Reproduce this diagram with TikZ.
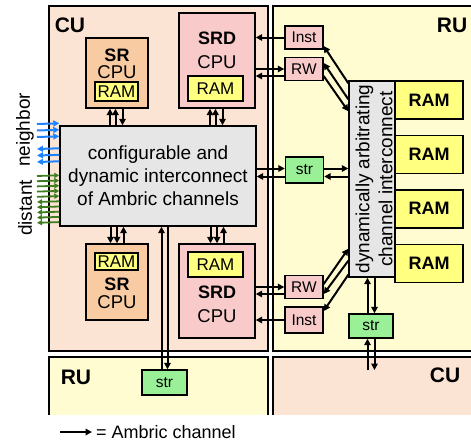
\documentclass[tikz,border=0pt]{standalone}
\usepackage{fontspec}
\setmainfont{Liberation Sans}
\usepackage{xcolor}
\usetikzlibrary{arrows.meta,positioning,calc}
\definecolor{ink}{HTML}{000000}
\definecolor{cufill}{HTML}{FCE4D4}
\definecolor{rufill}{HTML}{FFFCD2}
\definecolor{srfill}{HTML}{F8CBA2}
\definecolor{srdfill}{HTML}{F8CACA}
\definecolor{ramfill}{HTML}{FFFF80}
\definecolor{icfill}{HTML}{E6E6E6}
\definecolor{strfill}{HTML}{99F097}
\definecolor{nbblue}{HTML}{1F82FF}
\definecolor{dsgreen}{HTML}{3D7D20}

\begin{document}
\begin{tikzpicture}[x=1pt, y=-1pt,
  unit/.style={draw=ink, line width=1.6pt, inner sep=0pt, minimum width=217pt},
  unitname/.style={inner sep=0pt, text=ink, font=\bfseries\fontsize{21}{24}\selectfont},
  part/.style={draw=ink, line width=1.4pt, inner sep=0pt},
  partname/.style={inner sep=0pt, text=ink, font=\bfseries\fontsize{18}{20}\selectfont},
  partcpu/.style={inner sep=0pt, text=ink, font=\fontsize{18.5}{20}\selectfont},
  ram/.style={part, fill=ramfill, font=\fontsize{17}{19}\selectfont},
  bigram/.style={part, fill=ramfill, minimum width=68pt, minimum height=38pt, font=\bfseries\fontsize{18}{20}\selectfont},
  port/.style={part, minimum width=38pt, font=\fontsize{15.5}{18}\selectfont},
  chan/.style={-{Triangle[length=6.5pt,width=6.5pt]}, line width=2pt, ink},
  nbarr/.style={-{Triangle[length=6pt,width=6pt]}, line width=2pt, nbblue},
  dsarr/.style={-{Triangle[length=5pt,width=5pt]}, line width=1.8pt, dsgreen},
  sidelabel/.style={inner sep=0pt, rotate=90, text=ink, font=\fontsize{19}{22}\selectfont}
]
  \useasboundingbox (0,0) rectangle (471,442);
  \begin{scope}
    \clip (0,0) rectangle (471,414);
    \node[unit, fill=cufill, minimum width=219pt, minimum height=345pt] (cuA) at (158.5,178.5) {};
    \node[unit, fill=rufill, minimum height=345pt] (ruA) at (381.5,178.5) {};
    \node[unit, fill=rufill, minimum width=219pt, minimum height=80pt] (ruB) at (158.5,397) {};
    \node[unit, fill=cufill, minimum height=80pt] (cuB) at (381.5,397) {};
  \end{scope}
  \node[unitname] (cuAt) at (70,25) {CU};
  \node[unitname] (ruAt) at (452,25) {RU};
  \node[unitname] (ruBt) at (76,377) {RU};
  \node[unitname] (cuBt) at (445,375) {CU};

  \node[part, fill=srfill, minimum width=62pt, minimum height=70pt] (sr1) at (117,73) {};
  \node[partname] (sr1n) at (117,55) {SR};
  \node[partcpu] (sr1c) at (117,72.5) {CPU};
  \node[ram, minimum width=43pt, minimum height=19pt] (sr1m) at (116.5,91.5) {RAM};
  \node[part, fill=srdfill, minimum width=76pt, minimum height=95pt] (srd1) at (217,60.5) {};
  \node[partname] (srd1n) at (217,38) {SRD};
  \node[partcpu] (srd1c) at (217,62) {CPU};
  \node[ram, minimum width=55pt, minimum height=25pt] (srd1m) at (215.5,88.5) {RAM};

  \node[part, fill=icfill, minimum width=196pt, minimum height=100pt, align=center,
        font=\fontsize{19}{23}\selectfont] (ic) at (158,176)
        {configurable and\\dynamic interconnect\\of Ambric channels};

  \node[part, fill=srfill, minimum width=62pt, minimum height=76pt] (sr2) at (117,282) {};
  \node[ram, minimum width=43pt, minimum height=17pt] (sr2m) at (116.5,261.5) {RAM};
  \node[partname] (sr2n) at (117,284) {SR};
  \node[partcpu] (sr2c) at (117,302) {CPU};
  \node[part, fill=srdfill, minimum width=76pt, minimum height=94pt] (srd2) at (217,291) {};
  \node[ram, minimum width=55pt, minimum height=25pt] (srd2m) at (215.5,264.5) {RAM};
  \node[partname] (srd2n) at (217,292) {SRD};
  \node[partcpu] (srd2c) at (217,316) {CPU};

  \node[port, fill=strfill, minimum width=45pt, minimum height=25pt] (st1) at (164.5,382.5) {str};
  \node[port, fill=srdfill, minimum height=23pt] (it1) at (304,37.5) {Inst};
  \node[port, fill=srdfill, minimum height=23pt] (rw1) at (304,69) {RW};
  \node[port, fill=strfill, minimum height=26pt] (st2) at (304.5,170) {str};
  \node[port, fill=srdfill, minimum height=23pt] (rw2) at (304,287) {RW};
  \node[port, fill=srdfill, minimum height=26pt] (it2) at (304,320) {Inst};
  \node[port, fill=strfill, minimum width=44pt, minimum height=24pt] (st3) at (371,326) {str};

  \node[part, fill=icfill, minimum width=46pt, minimum height=196pt] (arb) at (372,179) {};
  \node[sidelabel, align=center, font=\fontsize{19}{23}\selectfont] (arbt) at (374,179)
        {dynamically arbitrating\\channel interconnect};
  \node[bigram] (ram1) at (429,100) {RAM};
  \node[bigram, below=15pt of ram1] (ram2) {RAM};
  \node[bigram, below=15pt of ram2] (ram3) {RAM};
  \node[bigram, below=15pt of ram3] (ram4) {RAM};

  \foreach \dx in {-7,-1.5}
    \draw[chan] ($(sr1.south |- ic.north)+(\dx,0)$) -- ($(sr1.south)+(\dx,0)$);
  \draw[chan] ($(sr1.south)+(5.5,0)$) -- ($(sr1.south |- ic.north)+(5.5,0)$);
  \foreach \dx in {-7,-1.5}
    \draw[chan] ($(srd1.south |- ic.north)+(\dx,0)$) -- ($(srd1.south)+(\dx,0)$);
  \draw[chan] ($(srd1.south)+(5.5,0)$) -- ($(srd1.south |- ic.north)+(5.5,0)$);
  \foreach \dx in {-6.5,0}
    \draw[chan] ($(sr2.north |- ic.south)+(\dx,0)$) -- ($(sr2.north)+(\dx,0)$);
  \draw[chan] ($(sr2.north)+(6.5,0)$) -- ($(sr2.north |- ic.south)+(6.5,0)$);
  \foreach \dx in {-6.5,0}
    \draw[chan] ($(srd2.north |- ic.south)+(\dx,0)$) -- ($(srd2.north)+(\dx,0)$);
  \draw[chan] ($(srd2.north)+(6.5,0)$) -- ($(srd2.north |- ic.south)+(6.5,0)$);
  \draw[chan] ($(st1.north)+(-3,0)$) -- ($(st1.north |- ic.south)+(-3,0)$);
  \draw[chan] ($(st1.north |- ic.south)+(3,0)$) -- ($(st1.north)+(3,0)$);

  \draw[chan] (it1.west) -- (it1.west -| srd1.east);
  \draw[chan] (rw1.west -| srd1.east) -- (rw1.west);
  \draw[chan] ($(rw1.west)+(0,7)$) -- ($(rw1.west -| srd1.east)+(0,7)$);
  \draw[chan] ($(st2.west -| ic.east)+(0,-1.5)$) -- ($(st2.west)+(0,-1.5)$);
  \draw[chan] ($(st2.west)+(0,6.5)$) -- ($(st2.west -| ic.east)+(0,6.5)$);
  \draw[chan] ($(st2.east)+(0,-1.5)$) -- ($(st2.east -| arb.west)+(0,-1.5)$);
  \draw[chan] ($(st2.east -| arb.west)+(0,6.5)$) -- ($(st2.east)+(0,6.5)$);
  \draw[chan] (rw2.west -| srd2.east) -- (rw2.west);
  \draw[chan] ($(rw2.west)+(0,7)$) -- ($(rw2.west -| srd2.east)+(0,7)$);
  \draw[chan] (it2.west) -- (it2.west -| srd2.east);

  \draw[chan] ($(arb.north west)+(0,3)$) -- ($(it1.east)+(0,8.5)$);
  \draw[chan] ($(arb.north west)+(0,19)$) -- ($(rw1.east)+(0,-6)$);
  \draw[chan] ($(rw1.east)+(0,7)$) -- ($(arb.north west)+(0,31)$);
  \draw[chan] ($(rw2.east)+(0,-3)$) -- ($(arb.south west)+(0,-29)$);
  \draw[chan] ($(arb.south west)+(0,-17)$) -- ($(rw2.east)+(0,7)$);
  \draw[chan] ($(arb.south west)+(0,-3)$) -- ($(it2.east)+(0,-9)$);

  \draw[chan] ($(st3.north)+(-3.5,0)$) -- ($(st3.north |- arb.south)+(-3.5,0)$);
  \draw[chan] ($(st3.north |- arb.south)+(3.5,0)$) -- ($(st3.north)+(3.5,0)$);
  \coordinate (cuBin) at (371,370);
  \draw[chan] ($(cuBin)+(-3.5,0)$) -- ($(st3.south)+(-3.5,0)$);
  \draw[chan] ($(st3.south)+(3.5,0)$) -- ($(cuBin)+(3.5,0)$);

  \coordinate (rim) at (37,126);
  \foreach \k in {0,1,2} {
    \draw[nbarr] ($(rim)+(0,-2+6.5*\k)$) -- ($(ic.north west)+(0,-2+6.5*\k)$);
    \draw[nbarr] ($(ic.north west)+(0,23+6.5*\k)$) -- ($(rim)+(0,23+6.5*\k)$);
  }
  \foreach \k in {0,...,4} {
    \draw[dsarr] ($(rim)+(0,50+5.2*\k)$) -- ($(ic.north west)+(0,50+5.2*\k)$);
    \draw[dsarr] ($(ic.north west)+(0,76+5.2*\k)$) -- ($(rim)+(0,76+5.2*\k)$);
  }
  \node[sidelabel] (nbt) at (25,130) {neighbor};
  \node[sidelabel] (dst) at (25,208) {distant};

  \coordinate (legA) at (60,432);
  \coordinate (legB) at (92,432);
  \draw[chan] (legA) -- (legB);
  \node[right=4pt of legB, inner sep=0pt, text=ink, font=\fontsize{18}{20}\selectfont] (legT) {= Ambric channel};
\end{tikzpicture}
\end{document}
